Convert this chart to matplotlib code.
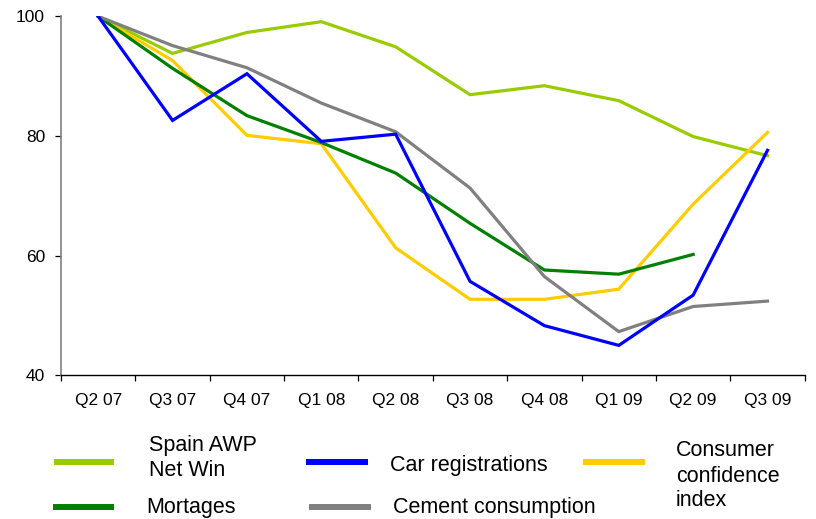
import matplotlib
matplotlib.use("Agg")
import matplotlib.pyplot as plt
from matplotlib.lines import Line2D
import numpy as np

plt.rcParams['font.family'] = ['Liberation Sans', 'DejaVu Sans']

quarters = ["Q2 07", "Q3 07", "Q4 07", "Q1 08", "Q2 08", "Q3 08", "Q4 08", "Q1 09", "Q2 09", "Q3 09"]
spain_awp = [100, 93.8, 97.3, 99.1, 94.9, 86.9, 88.4, 85.9, 79.9, 76.7]
car_reg = [100, 82.6, 90.4, 79.1, 80.3, 55.7, 48.3, 45.0, 53.4, 77.6]
consumer_conf = [100, 92.6, 80.1, 78.7, 61.3, 52.7, 52.7, 54.4, 68.6, 80.6]
mortgages = [100, 91.3, 83.4, 78.9, 73.8, 65.4, 57.6, 56.9, 60.2, np.nan]
cement = [100, 95.1, 91.4, 85.5, 80.7, 71.3, 56.5, 47.3, 51.5, 52.4]

series = [
    ("Spain AWP\nNet Win", spain_awp, "#99CC00"),
    ("Car registrations", car_reg, "#0000FF"),
    ("Consumer\nconfidence\nindex", consumer_conf, "#FFCC00"),
    ("Mortages", mortgages, "#008000"),
    ("Cement consumption", cement, "#808080"),
]

W, H = 816, 519
fig = plt.figure(figsize=(W / 100, H / 100), dpi=100)
ax = fig.add_axes([61 / W, 1 - 375.3 / H, (804.7 - 61) / W, (375.3 - 16.3) / H])

x = np.arange(len(quarters))
draw_order = [0, 4, 3, 2, 1]
for i in [0, 2, 3, 4, 1]:
    name, vals, col = series[i]
    ax.plot(x, vals, color=col, lw=2.3, solid_joinstyle='miter', zorder=3)

ax.set_xlim(-0.5, len(quarters) - 0.5)
ax.set_ylim(40, 100)
ax.set_yticks([40, 60, 80, 100])
ax.set_xticks(x)
ax.set_xticklabels(quarters, fontsize=12.5)
ax.set_xticks(np.arange(-0.5, len(quarters), 1.0), minor=True)
ax.tick_params(axis='x', which='major', length=0, pad=13)
ax.tick_params(axis='x', which='minor', length=4, width=0.9, color='black')
ax.tick_params(axis='y', length=4.5, width=0.9, color='black', labelsize=12.5, pad=7)
for s in ['top', 'right']:
    ax.spines[s].set_visible(False)
ax.spines['left'].set_color('#808080')
ax.spines['left'].set_linewidth(1.2)
ax.spines['bottom'].set_color('black')
ax.spines['bottom'].set_linewidth(1.0)

# legend (manual layout)
def fx(px):
    return px / W

def fy(py):
    return 1 - py / H

legend_items = [
    # (series index, handle x0, x1, handle y, text x, text line centers)
    (0, 54, 114, 461.7, 149, [445, 470.7]),
    (1, 306, 368, 461.7, 390, [465]),
    (2, 583, 645, 461.7, 676, [450, 476, 500.7]),
    (3, 53, 114, 507.3, 146.5, [507]),
    (4, 309, 371, 507.3, 393, [507.3]),
]
for idx, x0, x1, hy, tx, lines_y in legend_items:
    name, vals, col = series[idx]
    fig.add_artist(Line2D([fx(x0), fx(x1)], [fy(hy), fy(hy)], transform=fig.transFigure,
                          color=col, lw=4.3, solid_capstyle='butt'))
    for line, ly in zip(name.split("\n"), lines_y):
        fig.text(fx(tx), fy(ly), line, fontsize=15.5, ha='left', va='center')

fig.savefig("out.png", dpi=100)
